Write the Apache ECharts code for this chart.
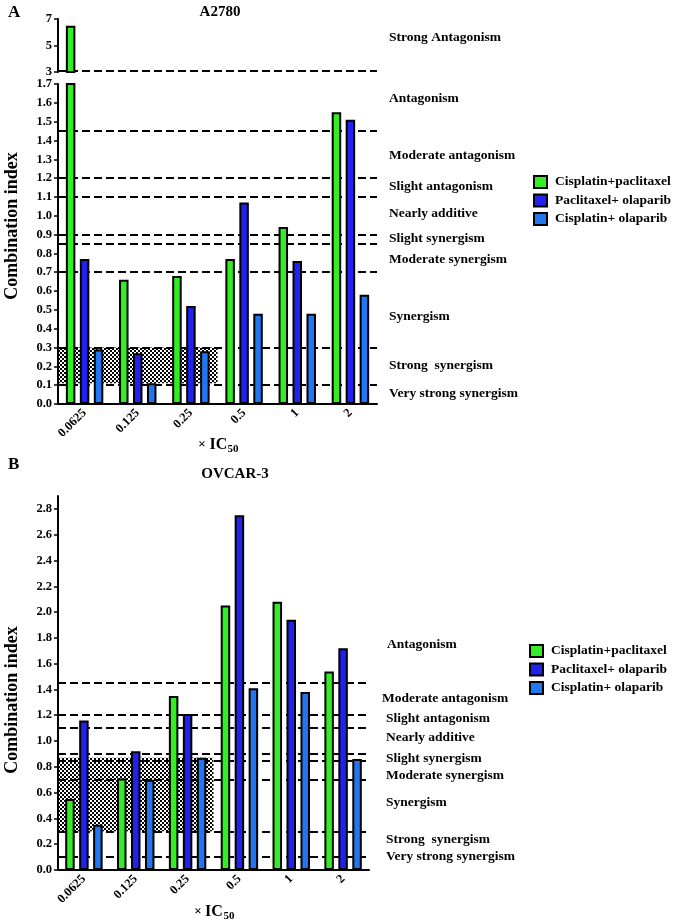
<!DOCTYPE html>
<html><head><meta charset="utf-8">
<script src="https://cdn.jsdelivr.net/npm/echarts@6/dist/echarts.min.js"></script>
<style>html,body{margin:0;padding:0;background:#fff}#c{width:677px;height:924px}</style>
</head><body><div id="c"></div>
<script>
// ---------- DATA ----------
const categories = ['0.0625', '0.125', '0.25', '0.5', '1', '2'];
const seriesNames = ['Cisplatin+paclitaxel', 'Paclitaxel+ olaparib', 'Cisplatin+ olaparib'];
const a2780CisPac = [6.5, 0.66, 0.68, 0.77, 0.94, 1.55];
const a2780PacOla = [0.77, 0.27, 0.52, 1.07, 0.76, 1.51];
const a2780CisOla = [0.29, 0.11, 0.28, 0.48, 0.48, 0.58];
const ovcarCisPac = [0.55, 0.71, 1.35, 2.05, 2.08, 1.54];
const ovcarPacOla = [1.16, 0.92, 1.21, 2.75, 1.94, 1.72];
const ovcarCisOla = [0.35, 0.70, 0.87, 1.41, 1.38, 0.86];
const ticksAUpper = [3, 5, 7];
const ticksALower = [0, 0.1, 0.2, 0.3, 0.4, 0.5, 0.6, 0.7, 0.8, 0.9, 1.0, 1.1, 1.2, 1.3, 1.4, 1.5, 1.6, 1.7];
const ticksB = [0, 0.2, 0.4, 0.6, 0.8, 1.0, 1.2, 1.4, 1.6, 1.8, 2.0, 2.2, 2.4, 2.6, 2.8];
const thresholdsAUpper = [3.1];
const thresholds = [1.45, 1.2, 1.1, 0.9, 0.85, 0.7, 0.3, 0.1];
const hatchA = [0.11, 0.3];
const hatchB = [0.3, 0.87];
const hatchCats = [0, 3];
const regionLabelsA = ['Strong Antagonism', 'Antagonism', 'Moderate antagonism', 'Slight antagonism', 'Nearly additive', 'Slight synergism', 'Moderate synergism', 'Synergism', 'Strong  synergism', 'Very strong synergism'];
const regionLabelsB = ['Antagonism', 'Moderate antagonism', 'Slight antagonism', 'Nearly additive', 'Slight synergism', 'Moderate synergism', 'Synergism', 'Strong  synergism', 'Very strong synergism'];

// ---------- STYLE / LAYOUT ----------
const colors = ['#33ee22', '#2222ee', '#2277f0'];
const FONT = '"Liberation Serif", "Times New Roman", serif';
const posA = [[389, 38], [389, 99], [389, 156], [389, 187], [389, 214], [389, 239], [389, 260], [389, 317], [389, 366], [389, 394]];
const posB = [[387, 645], [382, 699], [386, 719], [386, 738], [386, 759], [386, 776], [386, 803], [386, 840], [386, 857]];

const pc = document.createElement('canvas'); pc.width = 4; pc.height = 4;
const g = pc.getContext('2d');
g.fillStyle = '#fff'; g.fillRect(0, 0, 4, 4);
g.fillStyle = '#000'; g.fillRect(0, 0, 2, 2); g.fillRect(2, 2, 2, 2);
const hatchFill = { image: pc, repeat: 'repeat' };

const chart = echarts.init(document.getElementById('c'), null, { renderer: 'canvas' });

function catAxis(gridIndex, show) {
  return {
    type: 'category', gridIndex, data: categories, show,
    axisLine: { show: true, onZero: false, lineStyle: { color: '#000', width: 2 } },
    axisTick: { alignWithLabel: true, length: 5, lineStyle: { color: '#000', width: 1.5 } },
    axisLabel: { rotate: 45, color: '#000', fontWeight: 'bold', fontSize: 12.5, fontFamily: FONT, margin: 7 }
  };
}
function valAxisHidden(gridIndex) {
  return { type: 'value', gridIndex, min: 0, max: 6, show: false };
}
function yAx(gridIndex, min, max, ticks, fmt) {
  return {
    type: 'value', gridIndex, min, max,
    axisLine: { show: true, lineStyle: { color: '#000', width: 2 } },
    axisTick: { show: true, length: 4, lineStyle: { color: '#000', width: 1.5 }, customValues: ticks },
    axisLabel: { customValues: ticks, formatter: fmt, color: '#000', fontWeight: 'bold', fontSize: 12.5, fontFamily: FONT, margin: 6 },
    splitLine: { show: false }
  };
}

const barBase = { type: 'bar', barWidth: 9.5, barGap: '47%', z: 3 };

function bars(xi, yi, arrs, filter) {
  return arrs.map((arr, k) => Object.assign({}, barBase, {
    name: seriesNames[k], xAxisIndex: xi, yAxisIndex: yi,
    itemStyle: { color: colors[k], borderColor: '#000', borderWidth: 2 },
    data: filter ? arr.map(filter) : arr
  }));
}
function annot(xi, yi, lines, hatch) {
  const s = {
    type: 'line', xAxisIndex: xi, yAxisIndex: yi, data: [], silent: true,
    markLine: {
      z: 1, silent: true, symbol: 'none', label: { show: false },
      lineStyle: { color: '#000', width: 2, type: [8, 4] },
      data: lines.map(v => ({ yAxis: v }))
    }
  };
  if (hatch) {
    s.markArea = {
      z: 0, silent: true, itemStyle: { color: hatchFill },
      data: [[{ xAxis: hatchCats[0], yAxis: hatch[0] }, { xAxis: hatchCats[1], yAxis: hatch[1] }]]
    };
  }
  return s;
}

const texts = [];
function txt(x, y, text, font, align, rot) {
  texts.push({ type: 'text', x, y, rotation: rot || 0,
    style: { text, font, fill: '#000', textAlign: align || 'left', textVerticalAlign: 'middle' } });
}
txt(8, 13, 'A', 'bold 17px ' + FONT);
txt(8, 465, 'B', 'bold 17px ' + FONT);
txt(220, 12, 'A2780', 'bold 15px ' + FONT, 'center');
txt(235, 474, 'OVCAR-3', 'bold 15px ' + FONT, 'center');
txt(12, 226, 'Combination index', 'bold 18px ' + FONT, 'center', Math.PI / 2);
txt(12, 700, 'Combination index', 'bold 18px ' + FONT, 'center', Math.PI / 2);
// x axis titles
txt(202, 445, '×', 'bold 13px ' + FONT, 'center');
txt(218.5, 445, 'IC', 'bold 16px ' + FONT, 'center');
txt(233, 449, '50', 'bold 11px ' + FONT, 'center');
txt(198, 912, '×', 'bold 13px ' + FONT, 'center');
txt(214, 912, 'IC', 'bold 16px ' + FONT, 'center');
txt(229, 916, '50', 'bold 11px ' + FONT, 'center');
regionLabelsA.forEach((t, i) => txt(posA[i][0], posA[i][1], t, 'bold 13.5px ' + FONT));
regionLabelsB.forEach((t, i) => txt(posB[i][0], posB[i][1], t, 'bold 13.5px ' + FONT));

const legendBase = {
  orient: 'vertical', icon: 'rect', itemWidth: 13, itemHeight: 12, itemGap: 4.5,
  selectedMode: false, data: seriesNames,
  itemStyle: { borderColor: '#000', borderWidth: 2 },
  textStyle: { color: '#000', fontWeight: 'bold', fontSize: 13.5, fontFamily: FONT, padding: [0, 0, 0, 3] }
};

const option = {
  animation: false,
  backgroundColor: '#fff',
  grid: [
    { left: 58, top: 19, width: 319, height: 53 },
    { left: 58, top: 84, width: 319, height: 320 },
    { left: 58, top: 496, width: 311, height: 374 }
  ],
  xAxis: [catAxis(0, false), catAxis(1, true), catAxis(2, true), valAxisHidden(0), valAxisHidden(1), valAxisHidden(2)],
  yAxis: [
    yAx(0, 3, 7, ticksAUpper, v => String(v)),
    yAx(1, 0, 1.7, ticksALower, v => v.toFixed(1)),
    yAx(2, 0, 2.9, ticksB, v => v.toFixed(1))
  ],
  legend: [
    Object.assign({}, legendBase, { left: 528, top: 170 }),
    Object.assign({}, legendBase, { left: 524, top: 639 })
  ],
  graphic: texts,
  series: [
    annot(3, 0, thresholdsAUpper, null),
    annot(4, 1, thresholds, hatchA),
    annot(5, 2, thresholds, hatchB),
    ...bars(0, 0, [a2780CisPac, a2780PacOla, a2780CisOla], v => (v > 3 ? v : null)),
    ...bars(1, 1, [a2780CisPac, a2780PacOla, a2780CisOla]),
    ...bars(2, 2, [ovcarCisPac, ovcarPacOla, ovcarCisOla])
  ]
};
chart.setOption(option);
</script></body></html>
